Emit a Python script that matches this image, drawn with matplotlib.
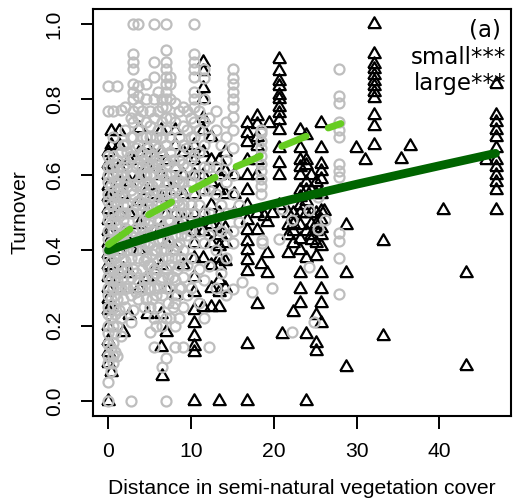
import matplotlib
matplotlib.use("Agg")
import matplotlib.pyplot as plt
import numpy as np

# ---------------- data ----------------
# small sites (grey circles): column x positions and the y values in each column
small_col_x = [0.0, 0.5, 1.0, 1.5, 2.0, 2.7, 3.0, 3.6, 4.0, 4.5, 5.0, 5.5, 6.0, 6.5,
               6.9, 7.5, 8.0, 8.5, 9.0, 9.5, 10.0, 10.4, 11.0, 11.6, 12.2, 13.0,
               13.6, 14.2, 15.0, 15.8, 16.2, 17.4, 18.4, 18.6, 19.8, 20.6, 21.0,
               22.2, 24.3, 24.9, 25.3, 26.2, 27.9,
               0.25, 0.75, 1.25, 1.8, 2.3, 3.3, 4.3, 4.8, 5.3, 5.8, 6.3, 7.2, 7.8, 8.3, 8.8]
small_col_y = [
    [0.0, 0.05, 0.1, 0.12, 0.15, 0.18, 0.2, 0.23, 0.25, 0.28, 0.3, 0.33, 0.35, 0.38, 0.4,
     0.43, 0.45, 0.48, 0.5, 0.53, 0.55, 0.58, 0.6, 0.62, 0.65, 0.77, 0.835],
    [0.1, 0.12, 0.155, 0.2, 0.25, 0.3, 0.35, 0.4, 0.45, 0.5, 0.55, 0.6, 0.65, 0.7, 0.77],
    [0.12, 0.2, 0.27, 0.32, 0.36, 0.42, 0.47, 0.52, 0.56, 0.6, 0.64, 0.837],
    [0.172, 0.22, 0.3, 0.35, 0.4, 0.44, 0.5, 0.55, 0.6, 0.66, 0.773],
    [0.25, 0.3, 0.37, 0.42, 0.46, 0.5, 0.54, 0.58, 0.63, 0.68, 0.72, 0.78],
    [0.0, 0.21, 0.28, 0.33, 0.38, 0.44, 0.5, 0.56, 0.6, 0.65, 0.7, 0.75],
    [0.24, 0.3, 0.35, 0.4, 0.45, 0.5, 0.55, 0.6, 0.65, 0.7, 0.74, 0.77, 0.8, 0.82,
     0.84, 0.88, 0.9, 0.92, 1.0],
    [0.27, 0.32, 0.38, 0.43, 0.48, 0.53, 0.58, 0.63, 0.68, 0.72, 0.75, 0.78, 0.81, 0.837, 1.0],
    [0.3, 0.35, 0.4, 0.46, 0.52, 0.57, 0.62, 0.66, 0.7, 0.77],
    [0.27, 0.33, 0.38, 0.44, 0.5, 0.55, 0.6, 0.65, 0.7, 0.74, 0.8, 0.84],
    [0.184, 0.25, 0.3, 0.36, 0.42, 0.48, 0.54, 0.6, 0.65, 0.7, 0.73, 0.77],
    [0.144, 0.22, 0.3, 0.35, 0.4, 0.45, 0.5, 0.56, 0.62, 0.68, 0.75, 0.8, 0.86, 0.9, 1.0],
    [0.25, 0.3, 0.37, 0.43, 0.48, 0.53, 0.58, 0.63, 0.67, 0.72, 0.77, 0.82],
    [0.09, 0.2, 0.28, 0.33, 0.38, 0.43, 0.5, 0.55, 0.6, 0.65, 0.7, 0.74, 0.78, 0.8],
    [0.0, 0.113, 0.22, 0.3, 0.35, 0.4, 0.45, 0.5, 0.55, 0.6, 0.64, 0.68, 0.72, 0.75,
     0.78, 0.8, 0.82, 0.84, 0.86, 0.88, 0.9, 0.93, 1.0],
    [0.22, 0.3, 0.36, 0.42, 0.48, 0.55, 0.6, 0.66, 0.7, 0.75, 0.8, 0.84, 0.86],
    [0.144, 0.2, 0.26, 0.32, 0.38, 0.44, 0.5, 0.56, 0.62, 0.68, 0.74, 0.79],
    [0.22, 0.3, 0.36, 0.42, 0.47, 0.52, 0.58, 0.64, 0.7, 0.77],
    [0.144, 0.25, 0.33, 0.4, 0.46, 0.52, 0.58, 0.63, 0.68, 0.73, 0.78],
    [0.28, 0.36, 0.44, 0.5, 0.56, 0.62, 0.67, 0.72, 0.77],
    [0.3, 0.38, 0.45, 0.52, 0.58, 0.64, 0.7, 0.75],
    [0.33, 0.42, 0.5, 0.55, 0.6, 0.65, 0.7, 0.74, 0.78, 0.8, 0.82, 0.86, 0.88, 0.9, 0.92, 1.0],
    [0.26, 0.35, 0.45, 0.52, 0.6, 0.66, 0.72, 0.77],
    [0.22, 0.32, 0.42, 0.5, 0.56, 0.62, 0.68, 0.74, 0.8, 0.857, 0.88],
    [0.144, 0.357, 0.44, 0.5, 0.56, 0.62, 0.7, 0.75],
    [0.3, 0.4, 0.47, 0.55, 0.62, 0.72, 0.77],
    [0.34, 0.45, 0.52, 0.6, 0.68],
    [0.28, 0.38, 0.44, 0.5, 0.58, 0.64, 0.7, 0.74],
    [0.296, 0.42, 0.45, 0.5, 0.55, 0.6, 0.67, 0.72, 0.754, 0.78, 0.8, 0.82, 0.84, 0.857, 0.88],
    [0.475, 0.52],
    [0.315],
    [0.29],
    [0.55, 0.57, 0.59, 0.61, 0.63, 0.65, 0.67, 0.69, 0.71, 0.72],
    [0.428, 0.42],
    [0.30],
    [0.43],
    [0.509],
    [0.184, 0.48],
    [0.355, 0.506],
    [0.21],
    [0.456, 0.54],
    [0.48],
    [0.285, 0.38, 0.425, 0.445, 0.595, 0.61, 0.628, 0.70, 0.72, 0.74, 0.79, 0.81, 0.88],
    [0.08, 0.14, 0.22, 0.27, 0.32, 0.37, 0.42, 0.47, 0.52, 0.57, 0.62],
    [0.13, 0.18, 0.23, 0.28, 0.33, 0.38, 0.43, 0.48, 0.53, 0.58, 0.63],
    [0.24, 0.3, 0.34, 0.39, 0.44, 0.49, 0.54, 0.59],
    [0.27, 0.33, 0.38, 0.43, 0.48, 0.52, 0.57, 0.62, 0.68],
    [0.3, 0.35, 0.4, 0.45, 0.52, 0.57, 0.62, 0.66],
    [0.29, 0.34, 0.4, 0.46, 0.52, 0.57, 0.62, 0.67],
    [0.25, 0.32, 0.37, 0.42, 0.48, 0.54, 0.6, 0.64],
    [0.3, 0.36, 0.41, 0.47, 0.52, 0.58, 0.63, 0.67],
    [0.27, 0.33, 0.39, 0.45, 0.51, 0.57, 0.63],
    [0.2, 0.28, 0.34, 0.4, 0.46, 0.52, 0.58, 0.64, 0.7],
    [0.32, 0.4, 0.46, 0.52, 0.56, 0.61, 0.66],
    [0.26, 0.33, 0.38, 0.43, 0.48, 0.53, 0.58, 0.63],
    [0.25, 0.33, 0.4, 0.46, 0.52, 0.58, 0.64],
    [0.28, 0.35, 0.41, 0.47, 0.53, 0.59],
    [0.3, 0.38, 0.44, 0.5, 0.55, 0.6],
]

# large sites (black triangles)
large_col_x = [0.0, 0.3, 1.3, 1.7, 2.5, 3.7, 4.7, 5.5, 6.3, 6.5, 6.9, 8.0, 9.0, 10.4,
               11.4, 12.4, 13.4, 14.1, 15.2, 16.8, 18.0, 18.4, 18.8, 19.2, 19.4, 19.8,
               20.6, 21.0, 21.7, 22.3, 23.1, 23.9, 24.5, 25.1, 25.7, 26.1, 28.7, 29.9,
               31.0, 32.1, 33.2, 35.4, 36.4, 40.4, 43.2, 45.6, 46.8]
large_col_y = [
    [0.0, 0.1, 0.13, 0.16, 0.2, 0.24, 0.27, 0.3, 0.33, 0.36, 0.39, 0.42, 0.45, 0.48,
     0.51, 0.54, 0.57, 0.6, 0.63, 0.66],
    [0.078, 0.25, 0.35, 0.45, 0.55, 0.62, 0.68, 0.717],
    [0.3, 0.4, 0.5, 0.58, 0.62, 0.68, 0.717],
    [0.184, 0.35, 0.45, 0.55],
    [0.228, 0.34, 0.42, 0.5, 0.58, 0.64],
    [0.3, 0.4, 0.47, 0.53, 0.6, 0.66, 0.725],
    [0.23, 0.33, 0.44, 0.5, 0.56, 0.62, 0.68],
    [0.35, 0.45, 0.55, 0.65],
    [0.144, 0.23, 0.36, 0.46, 0.54, 0.6, 0.66, 0.72],
    [0.065],
    [0.184, 0.3, 0.42, 0.5, 0.58, 0.64],
    [0.28, 0.4, 0.5, 0.56, 0.62, 0.68, 0.72],
    [0.36, 0.48, 0.55, 0.6, 0.66],
    [0.0, 0.13, 0.147, 0.172, 0.207, 0.24, 0.29, 0.33, 0.38, 0.42, 0.45, 0.5, 0.55, 0.6,
     0.64, 0.68],
    [0.25, 0.38, 0.45, 0.5, 0.56, 0.6, 0.66, 0.72, 0.75, 0.8, 0.83, 0.875, 0.9],
    [0.25, 0.3, 0.36, 0.42, 0.47, 0.52, 0.58, 0.64, 0.7],
    [0.0, 0.25, 0.29, 0.32, 0.36, 0.38, 0.41, 0.44, 0.46, 0.5, 0.56, 0.6, 0.64],
    [0.30, 0.37, 0.42, 0.46, 0.55, 0.61, 0.66],
    [0.5, 0.55, 0.6],
    [0.0, 0.151, 0.345, 0.375, 0.40, 0.424, 0.454, 0.48, 0.52, 0.56, 0.6, 0.64, 0.686,
     0.71, 0.738],
    [0.256, 0.454, 0.5, 0.6, 0.64, 0.677, 0.70, 0.735, 0.757],
    [0.363],
    [0.49],
    [0.34, 0.392, 0.475],
    [0.738],
    [0.50],
    [0.52, 0.6, 0.632, 0.672, 0.72, 0.745, 0.765, 0.78, 0.80, 0.813, 0.837, 0.85,
     0.875, 0.906],
    [0.177],
    [0.392, 0.44, 0.466, 0.5],
    [0.237, 0.42, 0.45, 0.47, 0.5],
    [0.261, 0.296, 0.34, 0.40, 0.43, 0.466, 0.5, 0.52, 0.54, 0.56, 0.6, 0.62, 0.64,
     0.672, 0.72],
    [0.0, 0.177, 0.38, 0.45, 0.5, 0.53, 0.56, 0.58, 0.625, 0.64, 0.705],
    [0.428, 0.44, 0.47, 0.5, 0.56, 0.6],
    [0.133, 0.155, 0.229, 0.384, 0.42, 0.45, 0.47, 0.5, 0.55, 0.58],
    [0.207, 0.261, 0.296, 0.34, 0.41, 0.44, 0.46, 0.48, 0.505, 0.55, 0.59, 0.61, 0.63,
     0.672, 0.738],
    [0.505],
    [0.089, 0.34, 0.466],
    [0.672],
    [0.64],
    [0.68, 0.73, 0.76, 0.805, 0.82, 0.835, 0.85, 0.865, 0.88, 0.895, 0.92, 1.0],
    [0.173, 0.425],
    [0.641],
    [0.677],
    [0.506],
    [0.093, 0.34],
    [0.64],
    [0.506, 0.56, 0.58, 0.60, 0.62, 0.64, 0.67, 0.70, 0.72, 0.74, 0.76, 0.84],
]

# fitted curves
small_fit_x = [0.0, 2.5, 4.5, 7.3, 9.4, 12.4, 14.4, 17.6, 19.8, 23.1, 25.1, 28.1]
small_fit_y = [0.415, 0.454, 0.49, 0.523, 0.553, 0.587, 0.612, 0.642, 0.665, 0.695, 0.713, 0.736]
large_fit_x = [0.0, 5.0, 10.0, 15.0, 22.0, 30.0, 40.0, 46.8]
large_fit_y = [0.40, 0.435, 0.468, 0.496, 0.534, 0.575, 0.624, 0.657]

x_ticks = [0, 10, 20, 30, 40]
y_ticks = [0.0, 0.2, 0.4, 0.6, 0.8, 1.0]
x_label = "Distance in semi-natural vegetation cover"
y_label = "Turnover"
notes = ["(a)", "small***", "large***"]

# ---------------- flatten ----------------
small_x = [x for x, ys in zip(small_col_x, small_col_y) for _ in ys]
small_y = [y for ys in small_col_y for y in ys]
large_x = [x for x, ys in zip(large_col_x, large_col_y) for _ in ys]
large_y = [y for ys in large_col_y for y in ys]

# ---------------- plot ----------------
plt.rcParams['font.family'] = ['Liberation Sans', 'DejaVu Sans']
fig = plt.figure(figsize=(5.13, 5.0), dpi=100)
ax = fig.add_axes([93 / 513, 84 / 500, 418 / 513, 407 / 500])

tri = [(-1.0, -0.577), (1.0, -0.577), (0.0, 1.155), (-1.0, -0.577)]
ax.plot(large_x, large_y, linestyle='none', marker=tri, ms=10.4, mfc='none',
        mec='black', mew=1.6, zorder=2)
ax.plot(small_x, small_y, linestyle='none', marker='o', ms=7.2, mfc='none',
        mec='#BEBEBE', mew=1.6, zorder=3)

ax.plot(large_fit_x, large_fit_y, color='#006400', lw=6.3, solid_capstyle='round', zorder=4)
ax.plot(small_fit_x, small_fit_y, color='#66CC22', lw=5.0, dashes=(3.8, 3.4),
        dash_capstyle='round', zorder=5)

ax.set_xlim(-1.87, 48.67)
ax.set_ylim(-0.04, 1.04)
ax.set_xticks(x_ticks)
ax.set_xticklabels([str(t) for t in x_ticks])
ax.set_yticks(y_ticks)
ax.set_yticklabels([f"{t:.1f}" for t in y_ticks], rotation=90, va='center')
ax.tick_params(direction='out', length=9, width=1.4, labelsize=15.2, color='black')
ax.tick_params(axis='x', pad=10)
ax.tick_params(axis='y', pad=12)
for s in ax.spines.values():
    s.set_linewidth(1.5)

ax.set_xlabel(x_label, fontsize=15.2, labelpad=13)
ax.set_ylabel(y_label, fontsize=15.2, labelpad=11)

ax.text(47.5, 0.985, notes[0], ha='right', va='center', fontsize=16.5, family='DejaVu Sans')
ax.text(48.1, 0.91, notes[1], ha='right', va='center', fontsize=16.5, family='DejaVu Sans')
ax.text(48.1, 0.843, notes[2], ha='right', va='center', fontsize=16.5, family='DejaVu Sans')

fig.savefig("out.png", dpi=100)
